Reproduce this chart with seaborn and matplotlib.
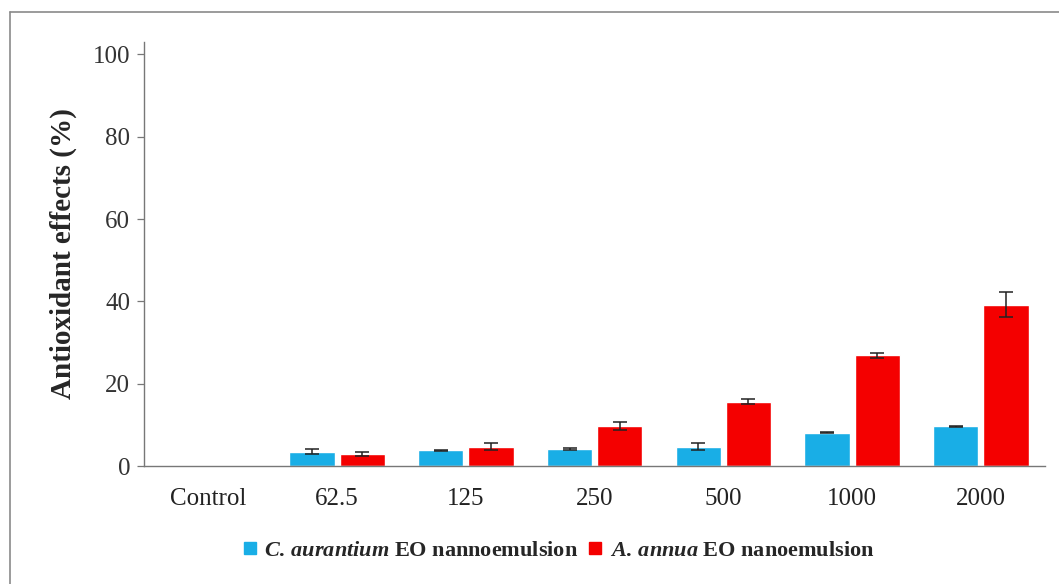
import matplotlib
matplotlib.use("Agg")
import matplotlib.pyplot as plt
from matplotlib.lines import Line2D
import seaborn as sns
import pandas as pd
import numpy as np

# Concentrations (µg/mL) and antioxidant activity (%) with standard deviations
concentrations = ["Control", "62.5", "125", "250", "500", "1000", "2000"]
aurantium_mean = [0.0, 3.5, 3.8, 4.1, 4.7, 8.1, 9.7]
aurantium_sd = [0.0, 0.6, 0.1, 0.3, 0.9, 0.1, 0.1]
annua_mean = [0.0, 2.9, 4.7, 9.7, 15.6, 26.9, 39.2]
annua_sd = [0.0, 0.5, 0.9, 0.9, 0.6, 0.6, 3.0]
series_names = ["C. aurantium", "A. annua"]
series_colors = ["#19AEE6", "#F40000"]

sns.set_theme(style="white")
plt.rcParams["font.family"] = ["Liberation Serif", "DejaVu Serif"]
plt.rcParams["mathtext.fontset"] = "custom"
plt.rcParams["mathtext.rm"] = "Liberation Serif:bold"
plt.rcParams["mathtext.it"] = "Liberation Serif:italic:bold"
plt.rcParams["mathtext.bf"] = "Liberation Serif:bold"

df = pd.DataFrame({
    "conc": concentrations * 2,
    "value": aurantium_mean + annua_mean,
    "sd": aurantium_sd + annua_sd,
    "series": [series_names[0]] * len(concentrations) + [series_names[1]] * len(concentrations),
})

fig = plt.figure(figsize=(10.59, 5.84), dpi=100)
ax = fig.add_axes([0.136, 0.202, 0.851, 0.726])

sns.barplot(data=df, x="conc", y="value", hue="series", order=concentrations,
            hue_order=series_names, palette=series_colors, width=0.78,
            gap=0.1, errorbar=None, legend=False, ax=ax, saturation=1)

# Error bars centred on each drawn bar
bars = ax.patches
n = len(concentrations)
for i, patch in enumerate(bars[:2 * n]):
    s = i // n
    k = i % n
    sd = (aurantium_sd if s == 0 else annua_sd)[k]
    if sd <= 0:
        continue
    xc = patch.get_x() + patch.get_width() / 2
    ax.errorbar(xc, patch.get_height(), yerr=sd, fmt="none", ecolor="#222222",
                elinewidth=1.1, capsize=5, capthick=1.1)

ax.set_xlim(-0.5, n - 0.5)
ax.set_ylim(0, 103)
ax.set_yticks([0, 20, 40, 60, 80, 100])
ax.set_xlabel("")
ax.set_ylabel("Antioxidant effects (%)", fontsize=21, fontweight="bold", labelpad=11)
ax.tick_params(axis="y", which="both", left=True, length=5, width=0.9,
               color="#777777", labelsize=18, pad=5, labelcolor="#333333")
ax.tick_params(axis="x", bottom=False, labelsize=18, pad=10, labelcolor="#222222")
for side in ["top", "right"]:
    ax.spines[side].set_visible(False)
for side in ["left", "bottom"]:
    ax.spines[side].set_color("#777777")
    ax.spines[side].set_linewidth(1.0)

handles = [Line2D([], [], marker="s", linestyle="none", markersize=8,
                  markerfacecolor=c, markeredgecolor=c) for c in series_colors]
labels = [r"$\mathit{C.\,aurantium}$ EO nannoemulsion",
          r"$\mathit{A.\,annua}$ EO nanoemulsion"]
fig.legend(handles, labels, loc="center", bbox_to_anchor=(0.527, 0.057), ncol=2,
           frameon=False, handlelength=0.7, handletextpad=0.3, columnspacing=0.4,
           prop={"family": "Liberation Serif", "weight": "bold", "size": 16})

# Frame lines along the top and left of the figure
fig.add_artist(Line2D([10 / 1059, 1.0], [1 - 12 / 584, 1 - 12 / 584],
                      transform=fig.transFigure, color="#8a8a8a", linewidth=1.2))
fig.add_artist(Line2D([10 / 1059, 10 / 1059], [0.0, 1 - 12 / 584],
                      transform=fig.transFigure, color="#8a8a8a", linewidth=1.2))

fig.savefig("out.png", dpi=100)
